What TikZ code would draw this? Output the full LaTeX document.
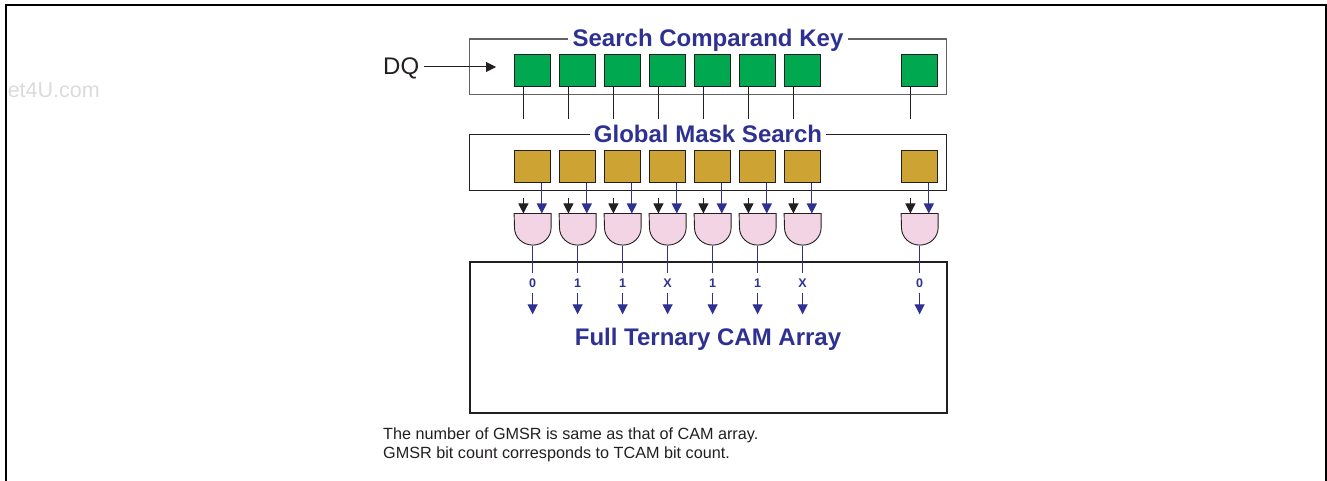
\documentclass[tikz,border=0pt]{standalone}
\usepackage{fontspec}
\setmainfont{Liberation Sans}
\usetikzlibrary{arrows.meta,calc}
\definecolor{inkk}{HTML}{231F20}
\definecolor{navy}{HTML}{2E3192}
\definecolor{keygreen}{HTML}{00A94F}
\definecolor{maskgold}{HTML}{CDA434}
\definecolor{gatepink}{HTML}{F2D4E4}
\tikzset{
  cell/.style={draw=inkk,line width=1pt,minimum width=36.6pt,minimum height=32pt,inner sep=0pt},
  keycell/.style={cell,fill=keygreen},
  maskcell/.style={cell,fill=maskgold},
  gatebox/.style={minimum width=36.6pt,minimum height=31.6pt,inner sep=0pt},
  gateshape/.style={draw=inkk,line width=0.9pt,fill=gatepink},
  groupbox/.style={line width=1.2pt},
  title/.style={fill=white,inner sep=0pt,text=navy,font=\fontsize{24}{26}\selectfont\bfseries},
  bitlabel/.style={text=navy,font=\fontsize{12.5}{14}\selectfont\bfseries,inner sep=0pt,minimum height=19pt,minimum width=10pt},
  blackwire/.style={draw=inkk,line width=1pt},
  blackarrow/.style={blackwire,-{Triangle[length=10pt,width=10pt]}},
  bluewire/.style={draw=navy,line width=1.1pt},
  bluearrow/.style={bluewire,-{Triangle[length=10pt,width=10pt]}},
  note/.style={inner sep=0pt,anchor=base west,text=inkk,font=\fontsize{16.2}{18}\selectfont}
}
\begin{document}
\begin{tikzpicture}[x=1pt,y=-1pt]
\useasboundingbox (0,0) rectangle (1327,481);
% watermark and page frame
\node[anchor=east,inner sep=0pt,text=black!14,font=\fontsize{21.5}{24}\selectfont] (wm) at (100,90) {et4U.com};
\draw[black,line width=2pt] (5.5,482) -- (5.5,5.5) -- (1326,5.5) -- (1326,482);
% group boxes
\draw[groupbox,draw=inkk!70] (469.5,39) rectangle (946.5,94.7);
\draw[groupbox,draw=inkk] (469.5,134.3) rectangle (946.5,190.3);
\draw[draw=inkk,line width=2pt] (469.5,262) rectangle (947,412.7);
\node[title,minimum height=18pt,minimum width=280pt] (t1) at (708,40) {Search Comparand Key};
\node[title,minimum height=18pt,minimum width=236pt] (t2) at (708,134.3) {Global Mask Search};
\node[text=navy,inner sep=0pt,font=\fontsize{24}{26}\selectfont\bfseries] (t3) at (708,339) {Full Ternary CAM Array};
% DQ
\node[inner sep=0pt,text=inkk,font=\fontsize{24}{26}\selectfont,anchor=base west] (dq) at (383,75) {DQ};
\coordinate (dqtip) at (496,67);
\draw[blackarrow] (dq.east |- dqtip) ++(5,0) -- (dqtip);
% bit columns
\foreach \i/\xx/\v in {0/532.6/0,1/577.6/1,2/622.6/1,3/667.6/X,4/712.6/1,5/757.6/1,6/802.6/X,7/919.6/0}{
  \node[keycell] (k\i) at (\xx,71) {};
  \node[maskcell] (m\i) at (\xx,166.3) {};
  \node[gatebox] (g\i) at (\xx,229.5) {};
  \draw[gateshape] (g\i.north west) -- (g\i.north east) -- ++(0,14.3)
     arc[start angle=0,end angle=-180,x radius=18.3pt,y radius=17.3pt] -- cycle;
  \node[bitlabel] (b\i) at (\xx,282.8) {\v};
  \coordinate (kend\i) at ($(k\i.south)+(-9.2,31.3)$);
  \coordinate (kstart\i) at ($(k\i.south)+(-9.2,0)$);
  \coordinate (gin\i) at ($(g\i.north)+(-9.2,0)$);
  \coordinate (gfree\i) at ($(g\i.north)+(-9.2,-15.4)$);
  \coordinate (mout\i) at ($(m\i.south)+(9.2,0)$);
  \coordinate (gmask\i) at ($(g\i.north)+(9.2,0)$);
  \coordinate (oend\i) at ($(b\i.south)+(0,21.8)$);
  \draw[blackwire] (kstart\i) -- (kend\i);
  \draw[blackarrow] (gfree\i) -- (gin\i);
  \draw[bluearrow] (mout\i) -- (gmask\i);
  \draw[bluewire] (g\i.south) -- (b\i.north);
  \draw[bluearrow] (b\i.south) -- (oend\i);
}
% footnotes
\node[note] (n1) at (383,439) {The number of GMSR is same as that of CAM array.};
\node[note] (n2) at (383,458) {GMSR bit count corresponds to TCAM bit count.};
\end{tikzpicture}
\end{document}
